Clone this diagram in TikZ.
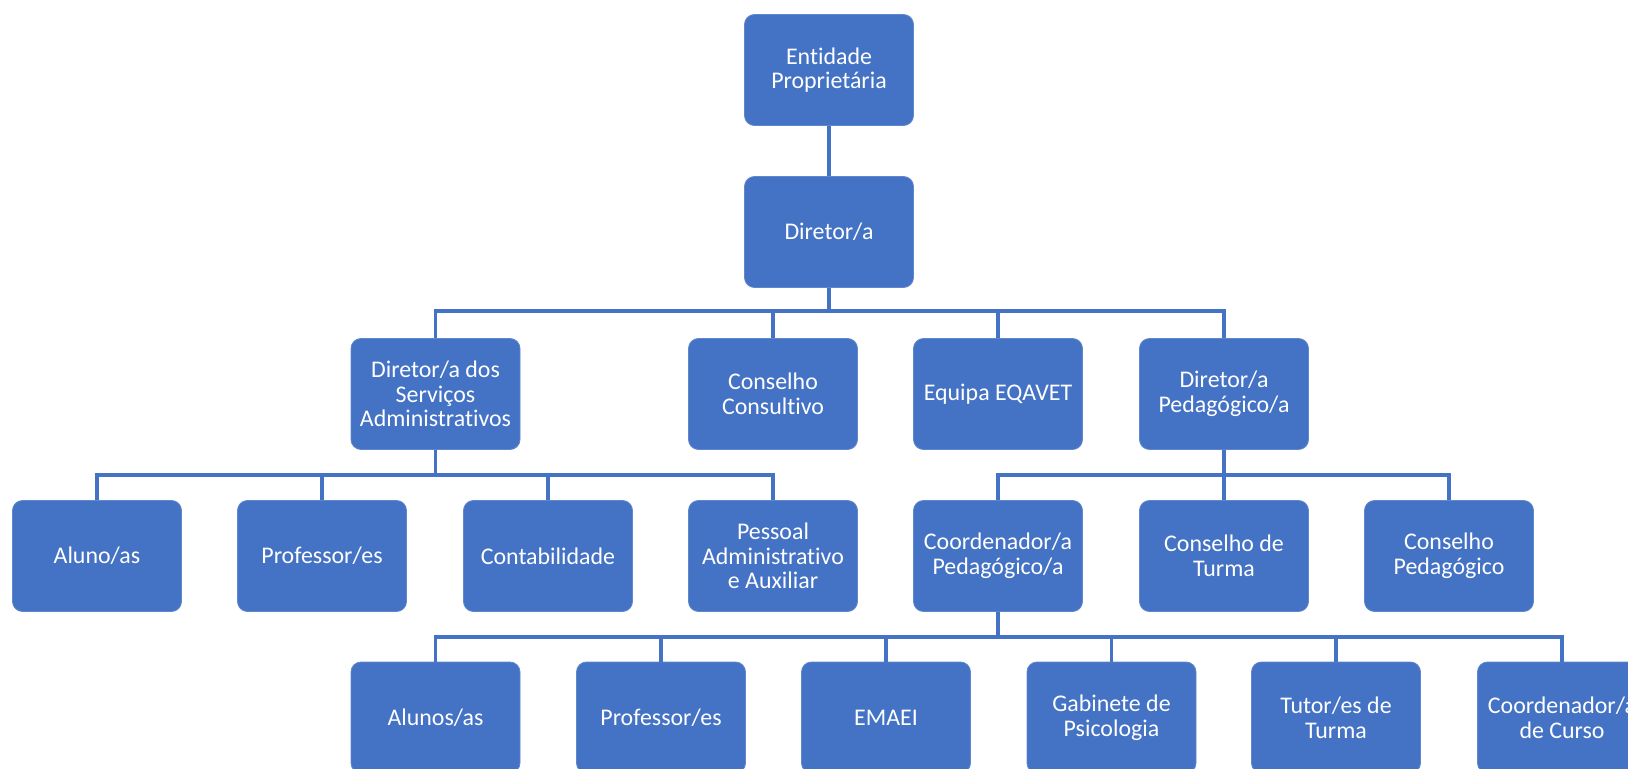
\documentclass[tikz,border=0pt]{standalone}
\usepackage{fontspec}
\setmainfont{Carlito}[Ligatures=CommonOff]
\usepackage{tikz}
\definecolor{orgblue}{HTML}{4472C4}
\tikzset{
  unit/.style={fill=orgblue,draw=orgblue!85!white,line width=.6pt,rounded corners=2.5mm,
    minimum width=42.25mm,minimum height=27.75mm,inner sep=1pt,align=center,
    text=white,font=\fontsize{17}{17.5}\selectfont},
  link/.style={draw=orgblue,line width=2.2pt},
}
\begin{document}
\begin{tikzpicture}[x=0.25mm,y=-0.25mm]
	\useasboundingbox (0,0) rectangle (1628,769);
	\clip (0,0) rectangle (1628,769);
	% top of the chart
	\node[unit] (ent) at (829,70)  {Entidade\\Proprietária};
	\node[unit] (dir) at (829,232) {Diretor/a};
	% level 3
	\node[unit] (dsa) at (435.5,394) {Diretor/a dos\\Serviços\\Administrativos};
	\node[unit] (cc)  at (773,394)   {Conselho\\Consultivo};
	\node[unit] (eq)  at (998,394)   {Equipa EQAVET};
	\node[unit] (dp)  at (1224,394)  {Diretor/a\\Pedagógico/a};
	% level 4
	\node[unit] (alu)  at (97,556)   {Aluno/as};
	\node[unit] (prof) at (322,556)  {Professor/es};
	\node[unit] (cont) at (548,556)  {Contabilidade};
	\node[unit] (pess) at (773,556)  {Pessoal\\Administrativo\\e Auxiliar};
	\node[unit] (cp)   at (998,556)  {Coordenador/a\\Pedagógico/a};
	\node[unit] (ct)   at (1224,556) {Conselho de\\Turma};
	\node[unit] (cped) at (1449,556) {Conselho\\Pedagógico};
	% level 5
	\node[unit] (alus)  at (435.5,717.5) {Alunos/as};
	\node[unit] (profs) at (661,717.5)   {Professor/es};
	\node[unit] (emaei) at (886,717.5)   {EMAEI};
	\node[unit] (gab)   at (1111.5,717.5){Gabinete de\\Psicologia};
	\node[unit] (tut)   at (1336,717.5)  {Tutor/es de\\Turma};
	\node[unit] (ccur)  at (1562,717.5)  {Coordenador/a\\de Curso};
	% buses
	\coordinate (bus1) at (0,311);
	\coordinate (bus2) at (0,475);
	\coordinate (bus3) at (0,637);
	\draw[link] (ent) -- (dir);
	\foreach \n in {dsa,cc,eq,dp}
		\draw[link] (dir.south) |- (bus1 -| \n) -- (\n.north);
	\foreach \n in {alu,prof,cont,pess}
		\draw[link] (dsa.south) |- (bus2 -| \n) -- (\n.north);
	\foreach \n in {cp,ct,cped}
		\draw[link] (dp.south) |- (bus2 -| \n) -- (\n.north);
	\foreach \n in {alus,profs,emaei,gab,tut,ccur}
		\draw[link] (cp.south) |- (bus3 -| \n) -- (\n.north);
\end{tikzpicture}
\end{document}
